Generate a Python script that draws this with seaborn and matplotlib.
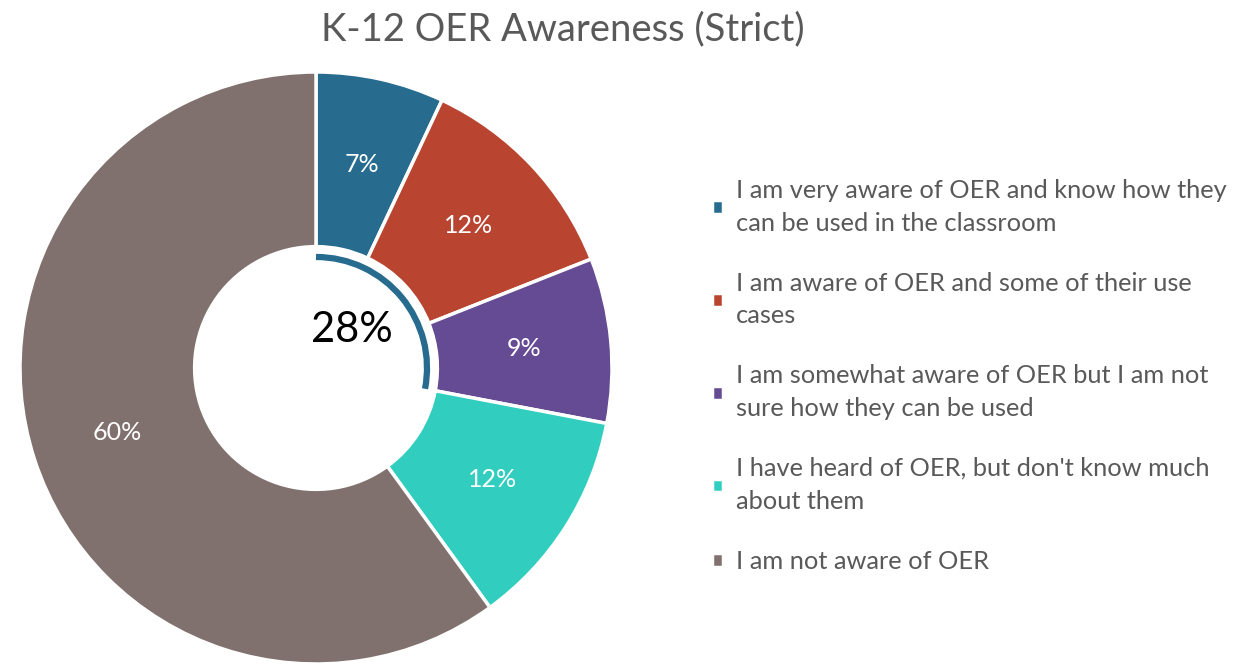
import matplotlib
matplotlib.use("Agg")
import matplotlib.pyplot as plt
from matplotlib.patches import Arc
import seaborn as sns

categories = [
    "I am very aware of OER and know how they\ncan be used in the classroom",
    "I am aware of OER and some of their use\ncases",
    "I am somewhat aware of OER but I am not\nsure how they can be used",
    "I have heard of OER, but don't know much\nabout them",
    "I am not aware of OER",
]
values = [7, 12, 9, 12, 60]
colors = ["#276C8F", "#B94531", "#654A94", "#31CEC0", "#80716F"]
aware_share = 28  # first three groups

sns.set_theme(style="white")
plt.rcParams["font.family"] = ["Lato", "DejaVu Sans"]
palette = sns.color_palette(colors)

fig = plt.figure(figsize=(12.4, 6.65), dpi=100)
ax = fig.add_axes([20 / 1240, 1 / 665, 592 / 1240, 592 / 665])

wedges, texts, autotexts = ax.pie(
    values, colors=palette, startangle=90, counterclock=False,
    radius=1.0, autopct="%d%%", pctdistance=0.705,
    wedgeprops=dict(width=0.59, edgecolor="white", linewidth=2.5),
    textprops=dict(color="white", fontsize=18),
)

# inner arc showing the aware share
ang = aware_share / 100 * 360
ax.add_patch(Arc((0, 0), 0.75, 0.75, theta1=90 - ang, theta2=90,
                 color=colors[0], linewidth=4.5))
ax.text(0.12, 0.13, f"{aware_share}%", ha="center", va="center",
        fontsize=30, color="black")

ax.set_xlim(-1, 1)
ax.set_ylim(-1, 1)
ax.set_aspect("equal")
ax.axis("off")

fig.text(563 / 1240, 1 - 29 / 665, "K-12 OER Awareness (Strict)",
         ha="center", va="center", fontsize=27.5, color="#595959")

leg = fig.legend(wedges, categories, loc="upper left",
                 bbox_to_anchor=(689 / 1240, 1 - 156 / 665),
                 frameon=False, fontsize=18.3, labelcolor="#595959",
                 handlelength=0.45, handleheight=0.45, handletextpad=0.5,
                 labelspacing=1.45)
for t in leg.get_texts():
    t.set_linespacing(1.52)

fig.savefig("out.png", dpi=100)
